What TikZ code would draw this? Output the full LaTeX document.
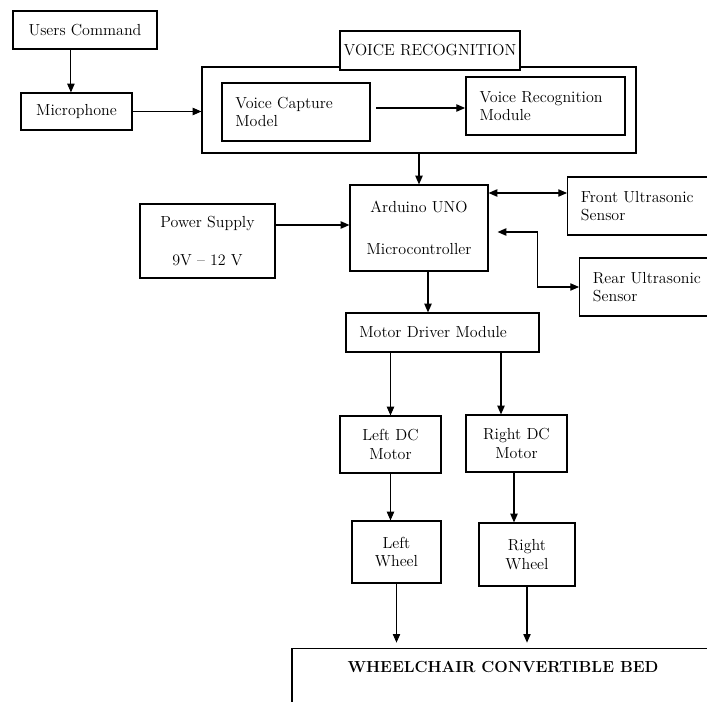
\documentclass[tikz,border=0pt]{standalone}
\usepackage{tikz}
\usetikzlibrary{shapes,arrows,positioning,calc,arrows.meta}

\begin{document}
\begin{tikzpicture}[x=0.75pt, y=-0.75pt, font=\large,
    >={Triangle[length=6.5pt,width=5.5pt]},
    box/.style={draw, rectangle, line width=0.9pt, inner sep=0pt, align=center},
    thickbox/.style={box, line width=1.6pt},
    leftbox/.style={box, align=left, inner xsep=10pt},
    link/.style={line width=0.8pt}]
    \useasboundingbox (0,0) rectangle (707,702);
    \clip (0,0) rectangle (707,702);

    \node[thickbox, minimum width=108pt, minimum height=28.5pt] (users) at (85,30) {Users Command};
    \node[box, minimum width=83.25pt, minimum height=27.75pt] (mic) at (76.5,111.5) {Microphone};

    \node[box, minimum width=325.5pt, minimum height=64.5pt] (vr) at (419,110) {};
    \node[box, fill=white, minimum width=135pt, minimum height=29.25pt] (vrlabel) at (430,50.5) {VOICE RECOGNITION};
    \node[leftbox, line width=1.6pt, text width=91pt, minimum height=43.5pt] (vcm) at (296,112) {Voice Capture\\Model};
    \node[leftbox, line width=1.6pt, text width=99pt, minimum height=43.5pt] (vrm) at (545.5,106) {Voice Recognition\\Module};

    \node[box, minimum width=103.5pt, minimum height=64.5pt] (arduino) at (419,228) {Arduino UNO\\[17pt]Microcontroller};
    \node[thickbox, minimum width=101.25pt, minimum height=55.5pt] (power) at (207.5,241) {Power Supply\\[14.5pt]9V -- 12 V};
    \node[leftbox, anchor=west, text width=115pt, minimum height=43.5pt] (front) at (567,206) {Front Ultrasonic\\Sensor};
    \node[leftbox, anchor=west, text width=115pt, minimum height=43.5pt] (rear) at (579,287) {Rear Ultrasonic\\Sensor};

    \node[leftbox, text width=124.75pt, minimum height=29.25pt] (md) at (442.5,332.5) {Motor Driver Module};
    \node[box, minimum width=75.75pt, minimum height=42.75pt] (ldc) at (390.5,444.5) {Left DC\\Motor};
    \node[box, minimum width=75.75pt, minimum height=42.75pt] (rdc) at (516.5,443.5) {Right DC\\Motor};
    \node[box, minimum width=66.75pt, minimum height=46.5pt] (lwheel) at (396.5,552) {Left\\Wheel};
    \node[box, minimum width=72pt, minimum height=47.25pt] (rwheel) at (527,554.5) {Right\\Wheel};

    % bottom box runs off the page
    \node[box, anchor=north, font=\large\bfseries, minimum width=316.5pt, inner ysep=8pt, text height=10pt, text depth=70pt] (bed) at (503,648) {WHEELCHAIR CONVERTIBLE BED};

    \coordinate (uc) at ($(users.south west)+(59,0)$);
    \draw[link,->] (uc) -- (uc |- mic.north);
    \draw[link,->] (mic.east) -- (mic.east -| vr.west);
    \coordinate (vc) at ($(vcm.east)+(5,-4)$);
    \draw[link,->] (vc) -- (vc -| vrm.west);
    \draw[link,->] (vr.south) -- (arduino.north);
    \coordinate (ps) at ($(power.east)+(0,-16)$);
    \draw[link,->] (ps) -- (ps -| arduino.west);
    \coordinate (fs) at ($(front.west)+(0,-13)$);
    \draw[link,<->] (fs -| arduino.east) -- (fs);
    \coordinate (rs) at ($(arduino.east)+(9,4)$);
    \draw[link,<->] (rs) -- ++(40,0) |- (rear.west);
    \coordinate (am) at ($(arduino.south)+(9,0)$);
    \draw[link,->] (am) -- (am |- md.north);

    \draw[link,->] (md.south -| ldc.north) -- (ldc.north);
    \coordinate (rm) at ($(rdc.north)+(-15.5,0)$);
    \draw[link,->] (rm |- md.south) -- (rm);
    \draw[link,->] (ldc.south) -- (ldc.south |- lwheel.north);
    \coordinate (rw) at ($(rwheel.north)+(-13,0)$);
    \draw[link,->] (rw |- rdc.south) -- (rw);
    \draw[link,->,shorten >=4pt] (lwheel.south) -- (lwheel.south |- bed.north);
    \draw[link,->,shorten >=4pt] (rwheel.south) -- (rwheel.south |- bed.north);
\end{tikzpicture}
\end{document}
